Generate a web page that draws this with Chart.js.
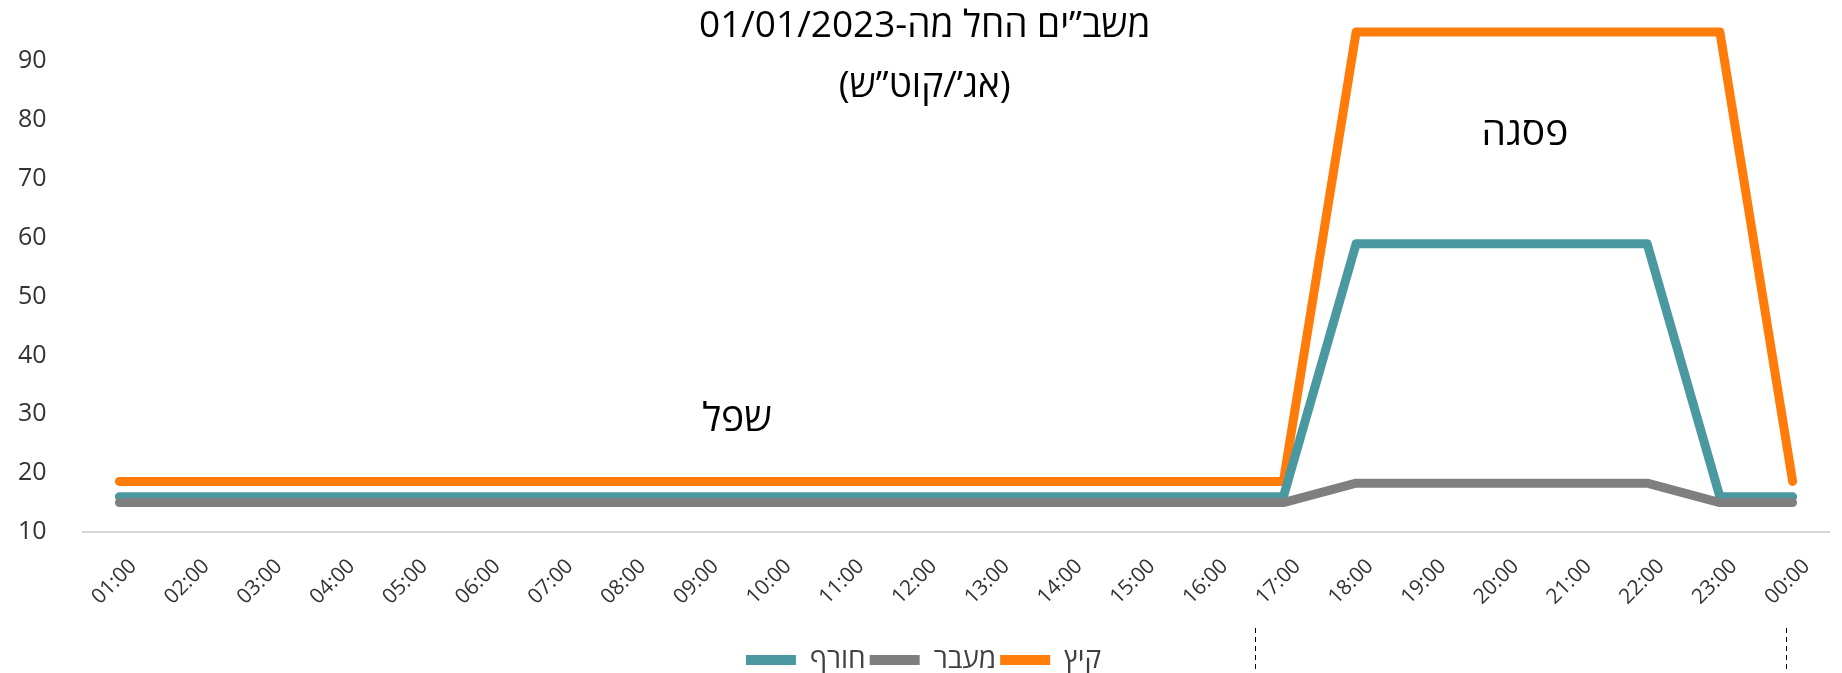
<!DOCTYPE html>
<html lang="he">
<head>
<meta charset="utf-8">
<script src="https://cdn.jsdelivr.net/npm/chart.js@4.4.1/dist/chart.umd.min.js"></script>
<style>
  html, body { margin: 0; padding: 0; background: #fff; }
  #wrap { width: 1842px; height: 673px; position: relative; }
</style>
</head>
<body>
<div id="wrap"><canvas id="touChart"></canvas></div>
<script>
// שעות היממה
const hours = ['01:00','02:00','03:00','04:00','05:00','06:00','07:00','08:00','09:00','10:00','11:00','12:00',
               '13:00','14:00','15:00','16:00','17:00','18:00','19:00','20:00','21:00','22:00','23:00','00:00'];

// חורף
const winter = [16,16,16,16,16,16,16,16,16,16,16,16,16,16,16,16,16,59,59,59,59,59,16,16];
// מעבר
const transition = [15,15,15,15,15,15,15,15,15,15,15,15,15,15,15,15,15,18.3,18.3,18.3,18.3,18.3,15,15];
// קיץ
const summer = [18.6,18.6,18.6,18.6,18.6,18.6,18.6,18.6,18.6,18.6,18.6,18.6,18.6,18.6,18.6,18.6,18.6,95,95,95,95,95,95,18.6];

const seriesNames = ['חורף', 'מעבר', 'קיץ'];
const yTicks = [10, 20, 30, 40, 50, 60, 70, 80, 90];

const titleLines = ['משב”ים החל מה-01/01/2023', '(אג’/קוט”ש)'];
const lowLabel = 'שפל';
const peakLabel = 'פסגה';

const FONT = '"Open Sans", "DejaVu Sans", sans-serif';
const colors = ['#4A98A0', '#7F7F7F', '#FF7C0A'];

// טקסטים וקווים מקווקווים שעל הגרף
const overlayPlugin = {
    id: 'overlay',
    afterDraw(chart) {
        const c = chart.ctx;
        const x = chart.scales.x, y = chart.scales.y;
        c.save();
        c.fillStyle = '#000';
        c.direction = 'rtl';
        c.textAlign = 'center';
        c.textBaseline = 'middle';
        c.font = '37px ' + FONT;
        const tx = x.getPixelForValue(11.07);
        c.fillText(titleLines[0], tx, y.getPixelForValue(95.9));
        c.fillText(titleLines[1], tx, y.getPixelForValue(85.7));
        c.font = '39px ' + FONT;
        c.fillText(lowLabel, x.getPixelForValue(8.49), y.getPixelForValue(29.1));
        c.fillText(peakLabel, x.getPixelForValue(19.32), y.getPixelForValue(77.7));

        // קווי הפרדה מקווקווים בתחתית
        c.strokeStyle = '#000';
        c.lineWidth = 1;
        c.setLineDash([5, 4]);
        [15.61, 22.91].forEach(v => {
            const px = Math.round(x.getPixelForValue(v)) + 0.5;
            c.beginPath();
            c.moveTo(px, 628);
            c.lineTo(px, chart.height);
            c.stroke();
        });
        c.restore();
    }
};

const ctx = document.getElementById('touChart');

new Chart(ctx, {
    type: 'line',
    data: {
        labels: hours,
        datasets: [winter, transition, summer].map((d, i) => ({
            label: seriesNames[i],
            data: d,
            borderColor: colors[i],
            backgroundColor: colors[i],
            borderWidth: 9,
            borderCapStyle: 'round',
            borderJoinStyle: 'round',
            pointRadius: 0,
            tension: 0,
            order: [1, 0, 2][i]
        }))
    },
    options: {
        responsive: true,
        maintainAspectRatio: false,
        animation: false,
        layout: {
            padding: { left: 18, right: 13, top: 2, bottom: -11 }
        },
        scales: {
            x: {
                offset: true,
                grid: { display: false, drawTicks: false },
                border: { display: true, color: '#D9D9D9', width: 2 },
                ticks: {
                    minRotation: 45,
                    maxRotation: 45,
                    autoSkip: false,
                    padding: 22,
                    labelOffset: 14,
                    color: '#333333',
                    font: { family: FONT, size: 21 }
                },
                afterFit(scale) { scale.height = 110; }
            },
            y: {
                min: 10,
                max: 100,
                afterBuildTicks(scale) {
                    scale.ticks = yTicks.map(v => ({ value: v }));
                },
                grid: { display: false, drawTicks: false },
                border: { display: false },
                ticks: {
                    padding: 0,
                    crossAlign: 'far',
                    color: '#333333',
                    font: { family: FONT, size: 25, lineHeight: 0.2 }
                },
                afterFit(scale) { scale.width = 65; }
            }
        },
        plugins: {
            legend: {
                position: 'bottom',
                labels: {
                    boxWidth: 50,
                    boxHeight: 10,
                    useBorderRadius: true,
                    borderRadius: 5,
                    padding: 4,
                    color: '#404040',
                    font: { family: FONT, size: 28 },
                    sort: (a, b) => a.datasetIndex - b.datasetIndex,
                    generateLabels(chart) {
                        return chart.data.datasets.map((ds, i) => ({
                            text: ds.label,
                            fillStyle: ds.borderColor,
                            strokeStyle: ds.borderColor,
                            lineWidth: 0,
                            fontColor: '#404040',
                            datasetIndex: i,
                            hidden: false
                        }));
                    }
                }
            },
            tooltip: { enabled: false }
        }
    },
    plugins: [overlayPlugin]
});
</script>
</body>
</html>
